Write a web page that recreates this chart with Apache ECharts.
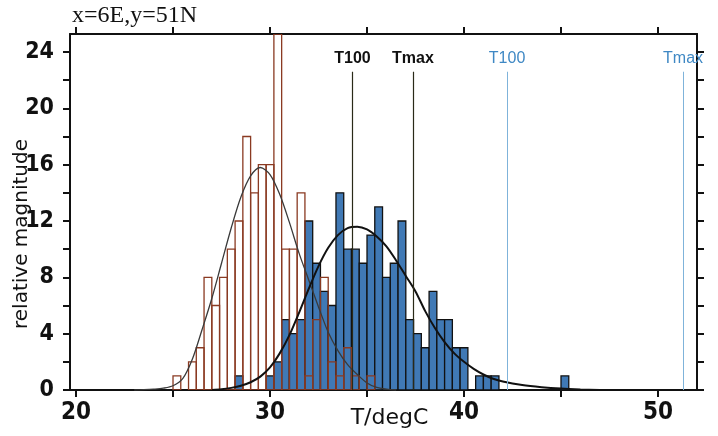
<!DOCTYPE html>
<html>
<head>
<meta charset="utf-8">
<script src="https://cdn.jsdelivr.net/npm/echarts@6/dist/echarts.min.js"></script>
<style>
html,body{margin:0;padding:0;background:#fff;}
#chart{width:718px;height:436px;}
</style>
</head>
<body>
<div id="chart"></div>
<script>
// ---- data ----
const titleText = 'x=6E,y=51N';
const xName = 'T/degC';
const yName = 'relative magnitude';
const xTickLabels = [20, 30, 40, 50];
const xTicks = [20, 25, 30, 35, 40, 45, 50];
const yTickLabels = [0, 4, 8, 12, 16, 20, 24];
const yTicks = [0, 2, 4, 6, 8, 10, 12, 14, 16, 18, 20, 22, 24];

const binWidth = 0.4;
const binLeft = [25.0,25.4,25.8,26.2,26.6,27.0,27.4,27.8,28.2,28.6,29.0,29.4,29.8,30.2,30.6,31.0,31.4,31.8,32.2,32.6,
                 33.0,33.4,33.8,34.2,34.6,35.0,35.4,35.8,36.2,36.6,37.0,37.4,37.8,38.2,38.6,39.0,39.4,39.8,40.2,40.6,
                 41.0,41.4,41.8,42.2,42.6,43.0,43.4,43.8,44.2,44.6,45.0];
// hollow (present-day) histogram
const hollowValues = [1,0,2,3,8,6,8,10,12,18,14,16,16,27,10,10,14,1,5,8,
                      2,1,3,1,0,1,0,0,0,0,0,0,0,0,0,0,0,0,0,0,
                      0,0,0,0,0,0,0,0,0,0,0];
// filled (scenario) histogram
const blueValues = [0,0,0,0,0,0,0,0,1,0,0,0,1,2,5,4,5,12,9,7,
                    6,14,10,10,9,11,13,8,9,12,5,4,3,7,5,5,3,3,0,1,
                    1,1,0,0,0,0,0,0,0,0,1];

const hollowCurveT = [23.0,23.5,24.0,24.5,25.0,25.5,26.0,26.5,27.0,27.5,28.0,28.5,29.0,29.5,30.0,30.5,31.0,31.5,32.0,32.5,33.0,33.5,34.0,34.5,35.0,35.5,36.0,36.5];
const hollowCurveV = [0.0,0.02,0.06,0.13,0.3,0.8,2.2,4.3,6.5,9.0,11.5,13.7,15.2,15.8,15.3,13.9,11.9,9.7,7.8,5.9,4.1,2.8,1.8,1.1,0.5,0.18,0.06,0.0];

const blueCurveT = [27.0,27.5,28.0,28.5,29.0,29.5,30.0,30.5,31.0,31.5,32.0,32.5,33.0,33.5,34.0,34.5,35.0,35.5,36.0,36.5,37.0,37.5,38.0,38.5,39.0,39.5,40.0,40.5,41.0,41.5,42.0,43.0,44.0,45.0,46.0,47.0];
const blueCurveV = [0.0,0.05,0.15,0.3,0.55,0.95,1.6,2.6,3.9,5.5,7.2,8.8,10.1,11.0,11.5,11.6,11.4,10.9,10.2,9.2,8.1,7.0,5.6,4.4,3.4,2.6,2.0,1.5,1.1,0.8,0.6,0.35,0.2,0.1,0.04,0.0];

const refNamesBlack = ['T100', 'Tmax'];
const refValuesBlack = [34.25, 37.37];
const refNamesBlue = ['T100', 'Tmax'];
const refValuesBlue = [42.22, 51.29];
const refTop = 22.6;

// ---- chart ----
const X_MIN = 19.69, X_MAX = 52.01, Y_MIN = 0, Y_MAX = 25.28;
const TICK_FONT = "'Liberation Sans Narrow', 'DejaVu Sans Condensed', 'Liberation Sans', sans-serif";
const chart = echarts.init(document.getElementById('chart'), null, {renderer: 'canvas'});

function barData(values) {
  return binLeft.map((l, i) => [l, l + binWidth, values[i]]);
}
function makeRender(style) {
  return function (params, api) {
    const h = api.value(2);
    if (!h) return null;
    const p0 = api.coord([api.value(0), 0]);
    const p1 = api.coord([api.value(1), h]);
    const cs = params.coordSys;
    const r = echarts.graphic.clipRectByRect(
      {x: p0[0], y: p1[1], width: p1[0] - p0[0], height: p0[1] - p1[1]},
      {x: cs.x, y: cs.y, width: cs.width, height: cs.height});
    if (!r) return null;
    return {type: 'rect', shape: r, style: style};
  };
}
function refLines(names, values, labelColor, bold) {
  return names.map((n, i) => [
    {coord: [values[i], 0]},
    {coord: [values[i], refTop], name: n,
     label: {show: true, position: 'end', formatter: n, color: labelColor, distance: 5,
             fontFamily: 'Liberation Sans', fontSize: 16, fontWeight: bold ? 'bold' : 'normal'}}
  ]);
}

const axisCommon = {
  type: 'value', min: X_MIN, max: X_MAX,
  axisLine: {show: true, onZero: false, lineStyle: {color: '#111', width: 2}},
  splitLine: {show: false}
};

chart.setOption({
  backgroundColor: '#ffffff',
  animation: false,
  title: {text: titleText, left: 72, top: 4, padding: 0,
          textStyle: {fontFamily: 'Liberation Serif', fontSize: 24, fontWeight: 'normal', color: '#111'}},
  grid: {left: 70, right: 21, top: 34, bottom: 46, containLabel: false, outerBoundsMode: 'none'},
  xAxis: [
    Object.assign({}, axisCommon, {
      position: 'bottom',
      axisTick: {show: true, inside: false, length: 7, customValues: xTicks, lineStyle: {color: '#111', width: 2}},
      axisLabel: {show: true, customValues: xTickLabels, margin: 11, color: '#111',
                  fontFamily: TICK_FONT, fontSize: 24, fontWeight: 'bold'},
      name: xName, nameLocation: 'middle', nameGap: 17, nameMoveOverlap: false,
      nameTextStyle: {fontFamily: 'DejaVu Sans', fontSize: 22, color: '#111', padding: [0, 0, 0, 12]}
    }),
    Object.assign({}, axisCommon, {
      position: 'top',
      axisTick: {show: true, inside: false, length: 7, customValues: xTicks, lineStyle: {color: '#111', width: 2}},
      axisLabel: {show: false}
    })
  ],
  yAxis: [
    {
      type: 'value', min: Y_MIN, max: Y_MAX, position: 'left',
      axisLine: {show: true, onZero: false, lineStyle: {color: '#111', width: 2}},
      axisTick: {show: true, inside: false, length: 7, customValues: yTicks, lineStyle: {color: '#111', width: 2}},
      axisLabel: {show: true, customValues: yTickLabels, margin: 16, color: '#111',
                  fontFamily: TICK_FONT, fontSize: 23, fontWeight: 'bold'},
      splitLine: {show: false},
      name: yName, nameLocation: 'middle', nameGap: 38, nameRotate: 90, nameMoveOverlap: false,
      nameTextStyle: {fontFamily: 'DejaVu Sans', fontSize: 20, color: '#111', padding: [0, 44, 0, 0]}
    },
    {
      type: 'value', min: Y_MIN, max: Y_MAX, position: 'right',
      axisLine: {show: true, onZero: false, lineStyle: {color: '#111', width: 2}},
      axisTick: {show: true, inside: false, length: 7, customValues: yTicks, lineStyle: {color: '#111', width: 2}},
      axisLabel: {show: false},
      splitLine: {show: false}
    }
  ],
  series: [
    {
      type: 'custom', name: 'scenario', xAxisIndex: 0, yAxisIndex: 0, z: 2,
      renderItem: makeRender({fill: '#4079b5', stroke: '#111', lineWidth: 1.3}),
      data: barData(blueValues), clip: true
    },
    {
      type: 'custom', name: 'present', xAxisIndex: 0, yAxisIndex: 0, z: 3,
      renderItem: makeRender({fill: 'none', stroke: '#8a3a22', lineWidth: 1.3}),
      data: barData(hollowValues), clip: true
    },
    {
      type: 'line', name: 'fit present', xAxisIndex: 0, yAxisIndex: 0, z: 4,
      data: hollowCurveT.map((t, i) => [t, hollowCurveV[i]]),
      smooth: 0.3, showSymbol: false, symbol: 'none',
      lineStyle: {color: '#3a3a3a', width: 1.3},
      markLine: {symbol: 'none', silent: true, animation: false,
                 lineStyle: {color: '#2a2a18', width: 1.2, type: 'solid'},
                 data: refLines(refNamesBlack, refValuesBlack, '#111', true)}
    },
    {
      type: 'line', name: 'fit scenario', xAxisIndex: 0, yAxisIndex: 0, z: 4,
      data: blueCurveT.map((t, i) => [t, blueCurveV[i]]),
      smooth: 0.3, showSymbol: false, symbol: 'none',
      lineStyle: {color: '#111', width: 2},
      markLine: {symbol: 'none', silent: true, animation: false,
                 lineStyle: {color: '#7fb3da', width: 1, type: 'solid'},
                 data: refLines(refNamesBlue, refValuesBlue, '#3f88c4', false)}
    }
  ]
});
</script>
</body>
</html>
